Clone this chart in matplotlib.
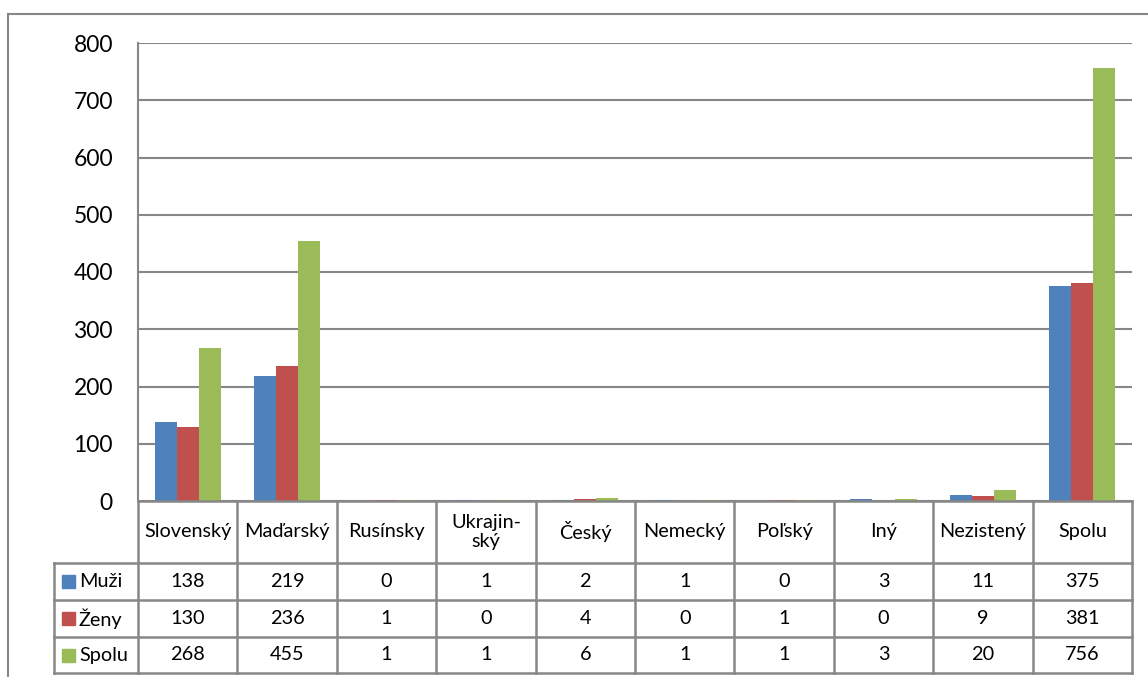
import numpy as np
import matplotlib
matplotlib.use("Agg")
import matplotlib.pyplot as plt
from matplotlib.lines import Line2D
from matplotlib.patches import Rectangle

plt.rcParams['font.family'] = ['Lato', 'DejaVu Sans']

# --- Data ---
categories = ['Slovenský', 'Maďarský', 'Rusínsky', 'Ukrajin-\nský', 'Český',
              'Nemecký', 'Poľský', 'Iný', 'Nezistený', 'Spolu']
series_names = ['Muži', 'Ženy', 'Spolu']
muzi = [138, 219, 0, 1, 2, 1, 0, 3, 11, 375]
zeny = [130, 236, 1, 0, 4, 0, 1, 0, 9, 381]
spolu = [268, 455, 1, 1, 6, 1, 1, 3, 20, 756]
y_ticks = [0, 100, 200, 300, 400, 500, 600, 700, 800]

COLORS = ['#4F81BD', '#C0504D', '#9BBB59']
GRID = '#878787'

W, H = 1148, 677
fig = plt.figure(figsize=(W / 100, H / 100), dpi=100)

def fx(px):
    return px / W

def fy(py):
    return 1 - py / H

# plot area in pixels
L, R, T, B = 138, 1132, 43, 501
ax = fig.add_axes([fx(L), fy(B), fx(R) - fx(L), fy(T) - fy(B)])

n = len(categories)
x = np.arange(n)
bw = 0.222
for i, vals in enumerate([muzi, zeny, spolu]):
    ax.bar(x + (i - 1) * bw, vals, width=bw, color=COLORS[i], zorder=3,
           label=series_names[i])

ax.set_xlim(-0.5, n - 0.5)
ax.set_ylim(0, 800)
ax.set_yticks(y_ticks)
ax.set_yticklabels([str(v) for v in y_ticks], fontsize=16.5)
ax.tick_params(axis='y', length=0, pad=18)
ax.set_xticks([])
ax.grid(axis='y', color=GRID, linewidth=1.5, zorder=0)
for s in ['top', 'right', 'bottom']:
    ax.spines[s].set_visible(False)
ax.spines['left'].set_color(GRID)
ax.spines['left'].set_linewidth(1.5)

# --- Data table ---
TB = 673
tab = fig.add_axes([fx(L), fy(TB), fx(R) - fx(L), fy(B) - fy(TB)])
tab.set_xlim(-0.5, n - 0.5)
tab.set_ylim(TB - B, 0)
tab.axis('off')

hdr = 62
row_edges = [hdr, 99, 136, 172]
lw = 1.8
# header row
tab.add_line(Line2D([-0.5, n - 0.5], [0, 0], color=GRID, lw=lw, clip_on=False))
for k in range(n + 1):
    tab.add_line(Line2D([k - 0.5, k - 0.5], [0, 172], color=GRID, lw=lw, clip_on=False))
# legend column extends left of the plot area
leg_left = -0.5 - (L - 54) / ((R - L) / n)
for yv in row_edges:
    tab.add_line(Line2D([leg_left, n - 0.5], [yv, yv], color=GRID, lw=lw, clip_on=False))
tab.add_line(Line2D([leg_left, leg_left], [hdr, 172], color=GRID, lw=lw, clip_on=False))

for k, c in enumerate(categories):
    tab.text(k, hdr / 2, c, ha='center', va='center', fontsize=14.3,
             linespacing=1.2)

unit = (R - L) / n
for r, (name, vals) in enumerate(zip(series_names, [muzi, zeny, spolu])):
    yc = (row_edges[r] + row_edges[r + 1]) / 2
    sq_x = leg_left + 8 / unit
    tab.add_patch(Rectangle((sq_x, yc - 6.5), 13 / unit, 13, color=COLORS[r],
                            clip_on=False))
    tab.text(sq_x + 17 / unit, yc, name, ha='left', va='center', fontsize=14.3)
    for k, v in enumerate(vals):
        tab.text(k, yc, str(v), ha='center', va='center', fontsize=14.3)

# outer chart border (left and top visible)
fig.add_artist(Line2D([fx(8), fx(8)], [fy(14), 0], color=GRID, lw=1.5))
fig.add_artist(Line2D([fx(8), 1], [fy(14), fy(14)], color=GRID, lw=1.5))

fig.savefig('out.png', dpi=100, facecolor='white')
